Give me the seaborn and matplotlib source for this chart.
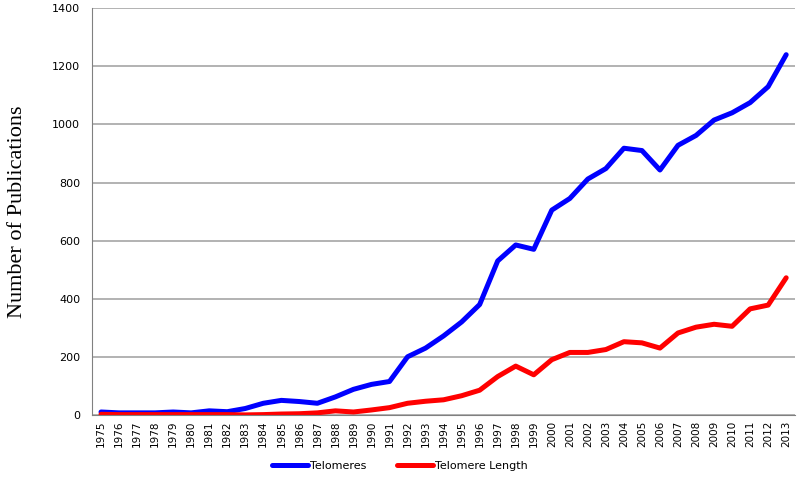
import matplotlib
matplotlib.use("Agg")
import matplotlib.pyplot as plt
import seaborn as sns
import pandas as pd
import numpy as np
from matplotlib.lines import Line2D

years = list(range(1975, 2014))
telomeres = [10, 7, 7, 7, 10, 7, 14, 11, 22, 40, 50, 46, 40, 62, 88, 105, 115,
             200, 230, 272, 320, 380, 530, 585, 570, 705, 745, 812, 848, 918,
             910, 843, 928, 962, 1015, 1040, 1075, 1130, 1240]
telomere_length = [2, 1, 1, 1, 1, 1, 1, 1, 0, 1, 3, 4, 7, 14, 10, 17, 25,
                   40, 47, 52, 66, 85, 132, 168, 138, 190, 215, 215, 225, 252,
                   248, 230, 282, 302, 312, 305, 365, 378, 472]
series_names = ["Telomeres", "Telomere Length"]

df = pd.DataFrame({
    "Year": years * 2,
    "Count": telomeres + telomere_length,
    "Series": [series_names[0]] * len(years) + [series_names[1]] * len(years),
})

sns.set_theme(style="white")
fig = plt.figure(figsize=(8, 4.83), dpi=100)
ax = fig.add_axes([0.115, 0.141, 0.879, 0.842])

sns.lineplot(data=df, x="Year", y="Count", hue="Series",
             palette={"Telomeres": "#0000ff", "Telomere Length": "#ff0000"},
             linewidth=3.6, ax=ax, legend=False)

ax.set_ylim(0, 1400)
ax.set_yticks(range(0, 1401, 200))
ax.set_xlim(1974.5, 2013.5)
ax.set_xticks(years)
ax.set_xticklabels([str(y) for y in years], rotation=90, fontsize=7.5,
                   family="DejaVu Sans")
ax.set_xticks(np.arange(1974.5, 2014, 1.0), minor=True)
ax.tick_params(axis="x", which="major", length=0, pad=4, labelcolor="black")
ax.tick_params(axis="x", which="minor", length=5, color="#808080", width=0.8,
               direction="out")
ax.tick_params(axis="y", which="major", length=5, color="#808080", width=0.8,
               labelsize=8, direction="out", labelcolor="black")
for lab in ax.get_yticklabels():
    lab.set_family("DejaVu Sans")

ax.yaxis.grid(True, color="#a6a6a6", linewidth=1.2)
ax.set_axisbelow(True)
for s in ["top", "right"]:
    ax.spines[s].set_visible(False)
for s in ["left", "bottom"]:
    ax.spines[s].set_color("#808080")
    ax.spines[s].set_linewidth(0.8)

ax.set_xlabel("")
ax.set_ylabel("Number of Publications", fontsize=16, family="Liberation Serif",
              labelpad=18, color="black")

handles = [Line2D([0], [0], color="#0000ff", lw=3.6),
           Line2D([0], [0], color="#ff0000", lw=3.6)]
fig.legend(handles, series_names, loc="center", bbox_to_anchor=(0.5, 0.036),
           ncol=2, frameon=False, handlelength=3.2,
           handletextpad=0.2, columnspacing=2.8, labelcolor="black",
           prop={"family": "DejaVu Sans", "size": 8})

fig.savefig("out.png", dpi=100)
